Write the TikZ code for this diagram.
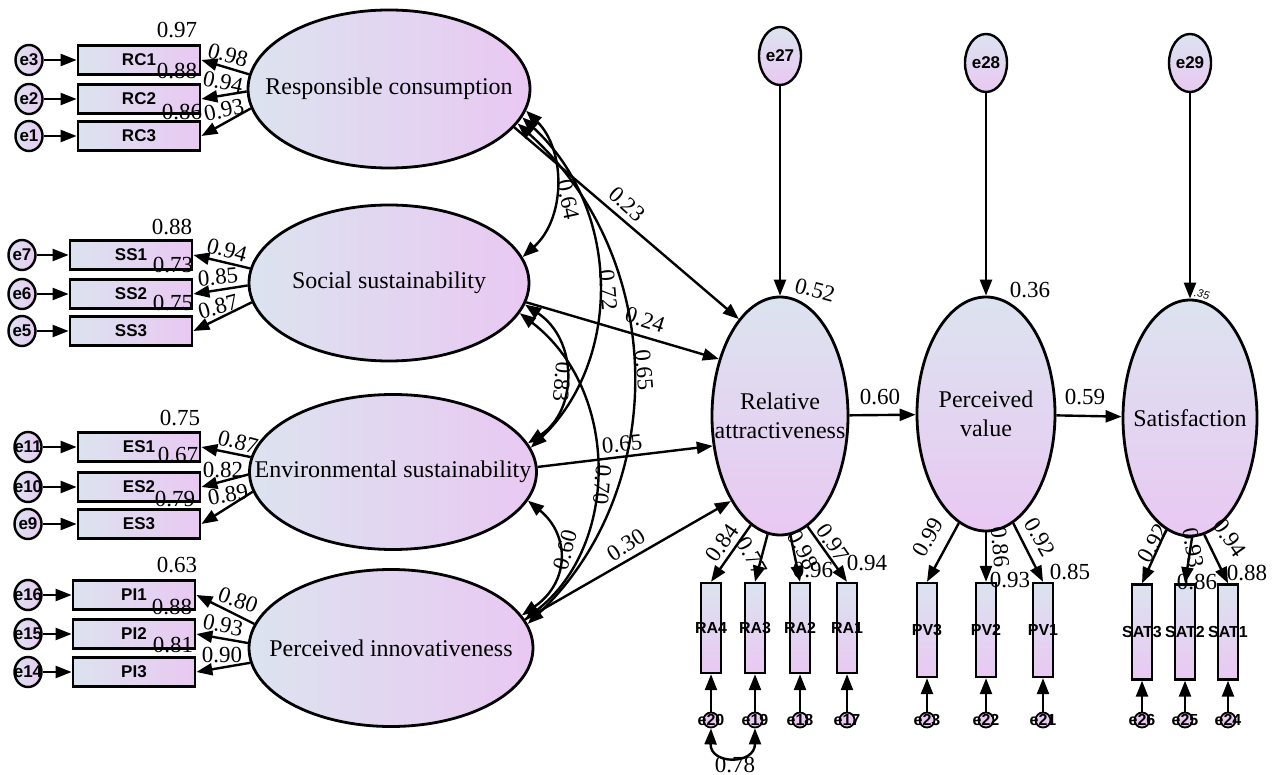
\documentclass[tikz,border=0pt]{standalone}
\usepackage{fontspec}
\setmainfont{Liberation Serif}
\newfontfamily\amosfont{Liberation Sans}
\usetikzlibrary{shapes.geometric,arrows.meta}
\definecolor{lvblue}{HTML}{DCE3EF}
\definecolor{lvpink}{HTML}{E9C8F2}
\tikzset{
  lat/.style={ellipse, draw, line width=2.8pt, inner sep=0pt, left color=lvblue, right color=lvpink},
  latv/.style={ellipse, draw, line width=2.8pt, inner sep=0pt, top color=lvblue, bottom color=lvpink},
  lattext/.style={font=\fontsize{24}{29}\selectfont, align=center, inner sep=0pt},
  ind/.style={rectangle, draw, line width=2.8pt, minimum width=122pt, minimum height=29pt, inner sep=0pt, left color=lvblue, right color=lvpink, font=\amosfont\bfseries\fontsize{17}{17}\selectfont},
  indv/.style={rectangle, draw, line width=2.4pt, minimum width=20pt, minimum height=90pt, inner sep=0pt, top color=lvblue, bottom color=lvpink},
  indlbl/.style={font=\amosfont\bfseries\fontsize{16}{16}\selectfont, inner sep=0pt},
  err/.style={ellipse, draw, line width=2.4pt, minimum width=27pt, minimum height=30pt, inner sep=0pt, left color=lvblue, right color=lvpink},
  errtop/.style={ellipse, draw, line width=2.4pt, minimum width=42pt, minimum height=58pt, inner sep=0pt, top color=lvblue, bottom color=lvpink},
  errs/.style={circle, draw, line width=1.8pt, minimum size=15pt, inner sep=0pt, fill=lvpink},
  errlbl/.style={font=\amosfont\bfseries\fontsize{17}{17}\selectfont, inner sep=0pt},
  errslbl/.style={font=\amosfont\bfseries\fontsize{16}{16}\selectfont, inner sep=0pt},
  est/.style={font=\fontsize{23}{23}\selectfont, inner sep=0pt},
  arr/.style={line width=2.4pt, -{Triangle[length=16pt,width=12pt]}},
  cov/.style={line width=2.4pt, {Triangle[length=16pt,width=12pt]}-{Triangle[length=16pt,width=12pt]}},
}
\begin{document}
\begin{tikzpicture}[x=1pt,y=-1pt]
\useasboundingbox (0,0) rectangle (1277,775);

% latent variables
\node[lat, minimum width=282pt, minimum height=158pt, label={[lattext]center:Responsible consumption}] (rc) at (389,89) {};
\node[lat, minimum width=280pt, minimum height=156pt, label={[lattext]center:Social sustainability}] (ss) at (389,283) {};
\node[lat, minimum width=287pt, minimum height=155pt, label={[lattext]center:Environmental sustainability}] (es) at (393,472) {};
\node[lat, minimum width=284pt, minimum height=157pt, label={[lattext]center:Perceived innovativeness}] (pi) at (391,648) {};
\node[latv, minimum width=136pt, minimum height=238pt, label={[lattext]center:Relative\\attractiveness}] (ra) at (780,416) {};
\node[latv, minimum width=138pt, minimum height=234pt, label={[lattext]center:Perceived\\value}] (pv) at (986,414) {};
\node[latv, minimum width=134pt, minimum height=236pt, label={[lattext]center:Satisfaction}] (sat) at (1190,418) {};

% left measurement blocks
\foreach \i/\e/\y in {1/3/60,2/2/99,3/1/136}{
  \node[ind] (rc\i) at (139,\y) {RC\i};
  \node[err, label={[errlbl]center:e\e}] (e\e) at (29,\y) {};
  \draw[arr] (e\e) -- (rc\i);
}
\foreach \i/\e/\y in {1/7/255,2/6/294,3/5/331}{
  \node[ind] (ss\i) at (131,\y) {SS\i};
  \node[err, label={[errlbl]center:e\e}] (e\e) at (22,\y) {};
  \draw[arr] (e\e) -- (ss\i);
}
\foreach \i/\e/\y in {1/11/447,2/10/487,3/9/524}{
  \node[ind] (es\i) at (139,\y) {ES\i};
  \node[err, label={[errlbl]center:e\e}] (e\e) at (28,\y) {};
  \draw[arr] (e\e) -- (es\i);
}
\foreach \i/\e/\y in {1/16/595,2/15/634,3/14/672}{
  \node[ind] (pi\i) at (134,\y) {PI\i};
  \node[err, label={[errlbl]center:e\e}] (e\e) at (28,\y) {};
  \draw[arr] (e\e) -- (pi\i);
}
\foreach \f in {rc,ss,es}
  \foreach \i/\a in {1/174,2/181,3/188}
    \draw[arr] (\f.\a) -- (\f\i.east);
\foreach \i/\a in {1/170,2/178,3/186}
  \draw[arr] (pi.\a) -- (pi\i.east);

% right measurement blocks
\foreach \i/\e/\x/\a in {4/20/711/255,3/19/755/264,2/18/800/275,1/17/847/284}{
  \node[indv, label={[indlbl]center:RA\i}] (ra\i) at (\x,628) {};
  \node[errs, label={[errslbl]center:e\e}] (e\e) at (\x,720) {};
  \draw[arr] (e\e) -- (ra\i);
  \draw[arr] (ra.\a) -- (ra\i.north);
}
\foreach \i/\e/\x/\a in {3/23/927/256,2/22/986/270,1/21/1043/284}{
  \node[indv, minimum height=94pt, label={[indlbl]center:PV\i}] (pv\i) at (\x,630) {};
  \node[errs, label={[errslbl]center:e\e}] (e\e) at (\x,720) {};
  \draw[arr] (e\e) -- (pv\i);
  \draw[arr] (pv.\a) -- (pv\i.north);
}
\foreach \i/\e/\x/\a in {3/26/1142/258,2/25/1185/271,1/24/1228/277}{
  \node[indv, minimum height=95pt, label={[indlbl]center:SAT\i}] (sat\i) at (\x,632) {};
  \node[errs, label={[errslbl]center:e\e}] (e\e) at (\x,720) {};
  \draw[arr] (e\e) -- (sat\i);
  \draw[arr] (sat.\a) -- (sat\i.north);
}
\draw[cov] (e20.south) .. controls (710,765) and (755,765) .. (e19.south);

% disturbances
\node[errtop, label={[errlbl]center:e27}] (e27) at (780,56) {};
\node[errtop, label={[errlbl]center:e28}] (e28) at (986,63) {};
\node[errtop, label={[errlbl]center:e29}] (e29) at (1190,63) {};
\draw[arr] (e27) -- (ra.north);
\draw[arr] (e28) -- (pv.north);
\draw[arr] (e29) -- (sat.north);

% structural paths
\draw[arr] (rc.-17) -- (ra.113);
\draw[arr] (ss.-8) -- (ra.137);
\draw[arr] (es.2) -- (ra.204);
\draw[arr] (pi.12) -- (ra.240);
\draw[arr] (ra) -- (pv);
\draw[arr] (pv) -- (sat);

% covariances
\draw[cov] (rc.-9) .. controls (566,150) and (566,218) .. (ss.11);
\draw[cov] (rc.-12) .. controls (622,210) and (622,360) .. (es.10);
\draw[cov] (rc.-15) .. controls (669,260) and (669,490) .. (pi.10);
\draw[cov] (ss.-9) .. controls (578,340) and (578,410) .. (es.12);
\draw[cov] (ss.-13) .. controls (620,390) and (620,545) .. (pi.12);
\draw[cov] (es.-12) .. controls (570,535) and (570,582) .. (pi.14);

% estimates
\foreach \n/\t/\x/\y/\r in {
  r2rc1/0.97/177/30/0, r2rc2/0.88/177/71/0, r2rc3/0.86/182/112/0,
  ldrc1/0.98/228/55/-15, ldrc2/0.94/223/82/-12, ldrc3/0.93/224/110/12,
  r2ss1/0.88/172/227/0, r2ss2/0.73/173/265/0, r2ss3/0.75/173/303/0,
  ldss1/0.94/227/250/-15, ldss2/0.85/218/277/5, ldss3/0.87/218/307/15,
  r2es1/0.75/180/418/0, r2es2/0.67/178/455/0, r2es3/0.79/175/499/0,
  ldes1/0.87/238/442/-15, ldes2/0.82/223/470/0, ldes3/0.89/228/495/10,
  r2pi1/0.63/177/565/0, r2pi2/0.88/172/607/0, r2pi3/0.81/173/645/0,
  ldpi1/0.80/238/600/-20, ldpi2/0.93/223/625/-12, ldpi3/0.90/222/655/0,
  grc/0.23/627/204/-42, gss/0.24/645/320/-18, ges/0.65/622/444/5, gpi/0.30/626/545/33,
  c12/0.64/568/200/-78, c13/0.72/608/290/-85, c14/0.65/644/370/-85,
  c23/0.83/562/382/-95, c24/0.70/602/485/-95, c34/0.60/565/550/75,
  gpv/0.60/880/397/0, gsat/0.59/1085/397/0, r2ra/0.52/815/290/-15, r2pv/0.36/1030/290/0,
  ldra4/0.84/722/543/55, ldra3/0.77/752/556/-60, ldra2/0.98/803/550/-62, ldra1/0.97/833/543/-55,
  r2ra2/0.96/813/570/0, r2ra1/0.94/867/563/0,
  ldpv3/0.99/928/537/60, ldpv2/0.86/1000/547/-85, ldpv1/0.92/1040/537/-60,
  r2pv2/0.93/1010/580/0, r2pv1/0.85/1070/572/0,
  ldsat3/0.92/1153/543/60, ldsat2/0.93/1193/548/-80, ldsat1/0.94/1230/538/-55,
  r2sat2/0.86/1197/582/0, r2sat1/0.88/1247/573/0,
  ce/0.78/735/765/0}
  \node[est, rotate=\r] (\n) at (\x,\y) {\t};
\node[font=\amosfont\itshape\fontsize{11}{11}\selectfont, rotate=-12, inner sep=0pt] (r2sat) at (1202,294) {.35};
\end{tikzpicture}
\end{document}
